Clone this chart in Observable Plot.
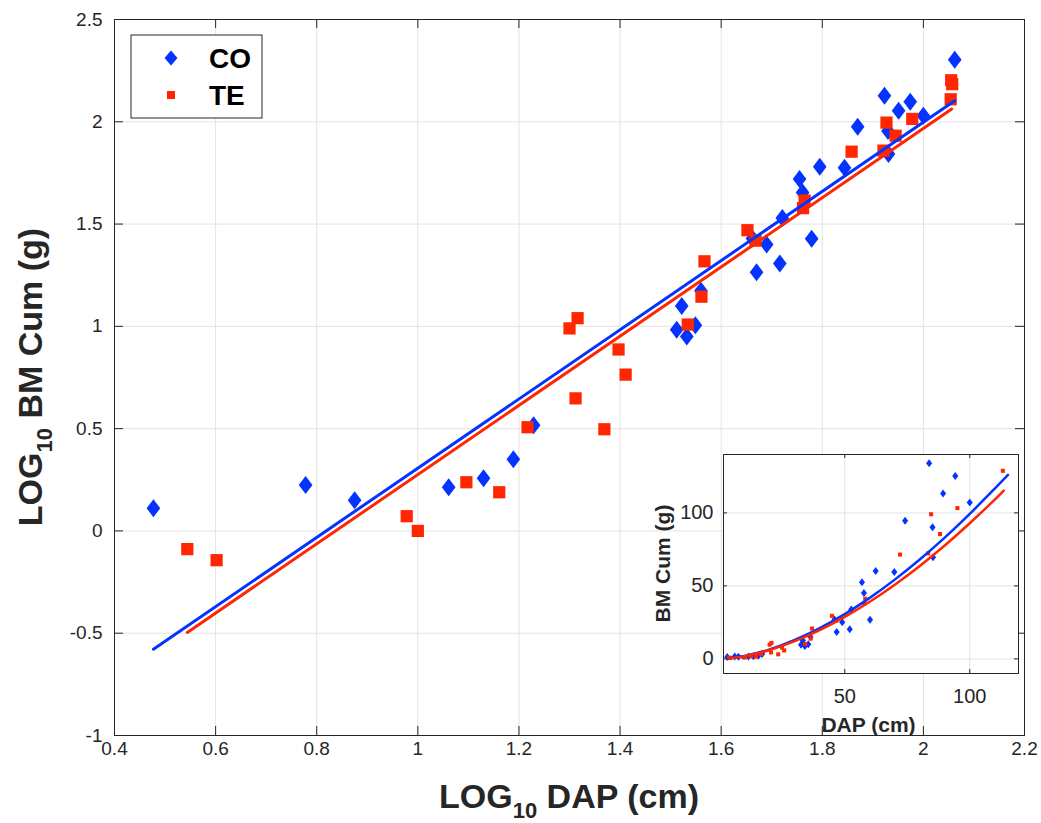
<!DOCTYPE html>
<html><head><meta charset="utf-8">
<script src="https://cdn.jsdelivr.net/npm/d3@7"></script>
<script src="https://cdn.jsdelivr.net/npm/@observablehq/plot@0.6"></script>
<style>
body{margin:0;background:#fff;}
#wrap{position:relative;width:1041px;height:823px;}
#inset{position:absolute;left:630px;top:446px;}
svg text{font-family:"Liberation Sans",Arial,Helvetica,sans-serif;}
</style></head><body><div id="wrap"><div id="main"></div><div id="inset"></div></div>
<script>
// ---- main panel data (log10 values) ----
const coLogDap = [0.477, 0.778, 0.875, 1.061, 1.130, 1.189, 1.229, 1.512, 1.522, 1.532, 1.549, 1.560, 1.662, 1.670, 1.690, 1.716, 1.721, 1.755, 1.761, 1.779, 1.795, 1.844, 1.870, 1.923, 1.930, 1.931, 1.951, 1.974, 2.000, 2.062];
const coLogBm  = [0.111, 0.225, 0.150, 0.213, 0.257, 0.350, 0.516, 0.984, 1.100, 0.950, 1.005, 1.174, 1.430, 1.265, 1.400, 1.307, 1.530, 1.720, 1.654, 1.428, 1.780, 1.775, 1.976, 2.127, 1.955, 1.843, 2.054, 2.098, 2.030, 2.303];
const teLogDap = [0.544, 0.602, 0.978, 1.000, 1.096, 1.161, 1.217, 1.300, 1.316, 1.312, 1.369, 1.397, 1.411, 1.534, 1.561, 1.567, 1.652, 1.668, 1.765, 1.762, 1.858, 1.921, 1.927, 1.945, 1.978, 2.054, 2.055, 2.057];
const teLogBm  = [-0.089, -0.143, 0.072, 0.000, 0.238, 0.189, 0.507, 0.990, 1.040, 0.648, 0.497, 0.887, 0.764, 1.009, 1.145, 1.318, 1.470, 1.419, 1.615, 1.578, 1.854, 1.859, 1.996, 1.932, 2.014, 2.110, 2.203, 2.184];
// fitted lines (end points)
const coFitLogDap = [0.477, 2.062];
const coFitLogBm  = [-0.578, 2.103];
const teFitLogDap = [0.544, 2.056];
const teFitLogBm  = [-0.496, 2.062];
// ---- inset fitted curves ----
const coCurveDap = [3.0, 10, 20, 30, 40, 50, 60, 70, 80, 90, 100, 110, 115.3];
const coCurveBm  = [0.26, 2.02, 6.53, 12.96, 21.1, 30.7, 41.8, 54.3, 68.1, 83.1, 99.3, 116.7, 126];
const teCurveDap = [3.5, 10, 20, 30, 40, 50, 60, 70, 80, 90, 100, 110, 113.6];
const teCurveBm  = [0.32, 1.89, 6.10, 12.12, 19.70, 28.76, 39.1, 50.8, 63.7, 77.7, 92.9, 109.1, 115.3];
// ---- ticks / labels ----
const xTicks = [0.4, 0.6, 0.8, 1, 1.2, 1.4, 1.6, 1.8, 2, 2.2];
const yTicks = [-1, -0.5, 0, 0.5, 1, 1.5, 2, 2.5];
const insetXTicks = [50, 100];
const insetYTicks = [0, 50, 100];
const seriesNames = ["CO", "TE"];
const BLUE = "#0433ff", RED = "#ff2600";

const zip = (xs, ys) => xs.map((x, i) => ({x, y: ys[i]}));
const coPts = zip(coLogDap, coLogBm), tePts = zip(teLogDap, teLogBm);
const coFit = zip(coFitLogDap, coFitLogBm), teFit = zip(teFitLogDap, teFitLogBm);
const coRaw = coPts.map(d => ({x: 10 ** d.x, y: 10 ** d.y}));
const teRaw = tePts.map(d => ({x: 10 ** d.x, y: 10 ** d.y}));
const coCurve = zip(coCurveDap, coCurveBm), teCurve = zip(teCurveDap, teCurveBm);

const diamond = {draw(ctx, size) { const r = Math.sqrt(size / Math.PI); const w = r * 0.95, h = r * 1.25;
  ctx.moveTo(0, -h); ctx.lineTo(w, 0); ctx.lineTo(0, h); ctx.lineTo(-w, 0); ctx.closePath(); }};
const fmt = d => String(d);
const GRID = "#e3e3e3", AX = "#262626";

const W = 1041, H = 823, mL = 114, mR = 17, mT = 19, mB = 88;
const pw = W - mL - mR, ph = H - mT - mB, TK = 9;
const main = Plot.plot({
  width: W, height: H, marginLeft: mL, marginRight: mR, marginTop: mT, marginBottom: mB,
  style: {color: AX, background: "transparent"},
  x: {domain: [0.4, 2.2], axis: null}, y: {domain: [-1, 2.5], axis: null},
  marks: [
    Plot.gridX({ticks: xTicks, stroke: GRID, strokeOpacity: 1}),
    Plot.gridY({ticks: yTicks, stroke: GRID, strokeOpacity: 1}),
    Plot.text(xTicks, {x: d => d, text: fmt, frameAnchor: "bottom", lineAnchor: "top", dy: 6, fontSize: 19, fill: AX}),
    Plot.text(yTicks, {y: d => d, text: fmt, frameAnchor: "left", textAnchor: "end", dx: -12, fontSize: 19, fill: AX}),
    Plot.tickX(xTicks, {insetTop: ph - TK, stroke: AX}),
    Plot.tickX(xTicks, {insetBottom: ph - TK, stroke: AX}),
    Plot.tickY(yTicks, {insetRight: pw - TK, stroke: AX}),
    Plot.tickY(yTicks, {insetLeft: pw - TK, stroke: AX}),
    Plot.dot(coPts, {x: "x", y: "y", symbol: diamond, r: 7.2, fill: BLUE, stroke: "none"}),
    Plot.dot(tePts, {x: "x", y: "y", symbol: "square", r: 6.9, fill: RED, stroke: "none"}),
    Plot.line(coFit, {x: "x", y: "y", stroke: BLUE, strokeWidth: 3}),
    Plot.line(teFit, {x: "x", y: "y", stroke: RED, strokeWidth: 3}),
    Plot.frame({stroke: AX})
  ]
});
document.getElementById("main").appendChild(main);
const ms = d3.select(main);
// axis labels with subscripts
const xl = ms.append("text").attr("x", mL + pw / 2).attr("y", 808).attr("text-anchor", "middle")
  .attr("font-size", 34).attr("font-weight", "bold").attr("fill", AX);
xl.append("tspan").text("LOG");
xl.append("tspan").text("10").attr("font-size", 22).attr("dy", 10);
xl.append("tspan").text(" DAP (cm)").attr("dy", -10);
const yl = ms.append("text").attr("transform", `translate(42,${mT + ph / 2}) rotate(-90)`).attr("text-anchor", "middle")
  .attr("font-size", 34).attr("font-weight", "bold").attr("fill", AX);
yl.append("tspan").text("LOG");
yl.append("tspan").text("10").attr("font-size", 22).attr("dy", 10);
yl.append("tspan").text(" BM Cum (g)").attr("dy", -10);
// legend
const lg = ms.append("g");
lg.append("rect").attr("x", 131).attr("y", 35).attr("width", 131).attr("height", 83).attr("fill", "#fff").attr("stroke", AX);
lg.append("path").attr("d", "M171,50.5L177.5,58L171,65.5L164.5,58Z").attr("fill", BLUE);
lg.append("rect").attr("x", 167).attr("y", 91).attr("width", 8).attr("height", 8).attr("fill", RED);
lg.selectAll("text.lab").data(seriesNames).join("text").attr("class", "lab")
  .attr("x", 209).attr("y", (d, i) => 68 + i * 37).attr("text-anchor", "start")
  .attr("font-size", 28).attr("font-weight", "bold").attr("fill", "#000").text(d => d);

// ---- inset ----
const iW = 392, iH = 291, imL = 93, imR = 4, imT = 8, imB = 64;
const ipw = iW - imL - imR, iph = iH - imT - imB, itk = 4;
const inset = Plot.plot({
  width: iW, height: iH, marginLeft: imL, marginRight: imR, marginTop: imT, marginBottom: imB,
  style: {color: AX, background: "transparent"},
  x: {domain: [1.5, 119.5], axis: null}, y: {domain: [-10, 140], axis: null},
  marks: [
    Plot.frame({fill: "#fff", stroke: "none"}),
    Plot.gridX({ticks: insetXTicks, stroke: GRID, strokeOpacity: 1}),
    Plot.gridY({ticks: insetYTicks, stroke: GRID, strokeOpacity: 1}),
    Plot.text(insetXTicks, {x: d => d, text: fmt, frameAnchor: "bottom", lineAnchor: "top", dy: 15, fontSize: 20, fill: AX}),
    Plot.text(insetYTicks, {y: d => d, text: fmt, frameAnchor: "left", textAnchor: "end", dx: -10, fontSize: 20, fill: AX}),
    Plot.tickX(insetXTicks, {insetTop: iph - itk, stroke: AX}),
    Plot.tickX(insetXTicks, {insetBottom: iph - itk, stroke: AX}),
    Plot.tickY(insetYTicks, {insetRight: ipw - itk, stroke: AX}),
    Plot.tickY(insetYTicks, {insetLeft: ipw - itk, stroke: AX}),
    Plot.dot(coRaw, {x: "x", y: "y", symbol: diamond, r: 3.2, fill: BLUE, stroke: "none", clip: true}),
    Plot.dot(teRaw, {x: "x", y: "y", symbol: "square", r: 2.3, fill: RED, stroke: "none", clip: true}),
    Plot.line(coCurve, {x: "x", y: "y", stroke: BLUE, strokeWidth: 2.5, curve: "natural"}),
    Plot.line(teCurve, {x: "x", y: "y", stroke: RED, strokeWidth: 2.5, curve: "natural"}),
    Plot.frame({stroke: AX})
  ]
});
document.getElementById("inset").appendChild(inset);
const is = d3.select(inset);
is.append("text").attr("x", imL + ipw / 2 - 2).attr("y", 286).attr("text-anchor", "middle")
  .attr("font-size", 21).attr("font-weight", "bold").attr("fill", AX).text("DAP (cm)");
is.append("text").attr("transform", `translate(40,${imT + iph / 2}) rotate(-90)`).attr("text-anchor", "middle")
  .attr("font-size", 21).attr("font-weight", "bold").attr("fill", AX).text("BM Cum (g)");
</script></body></html>
